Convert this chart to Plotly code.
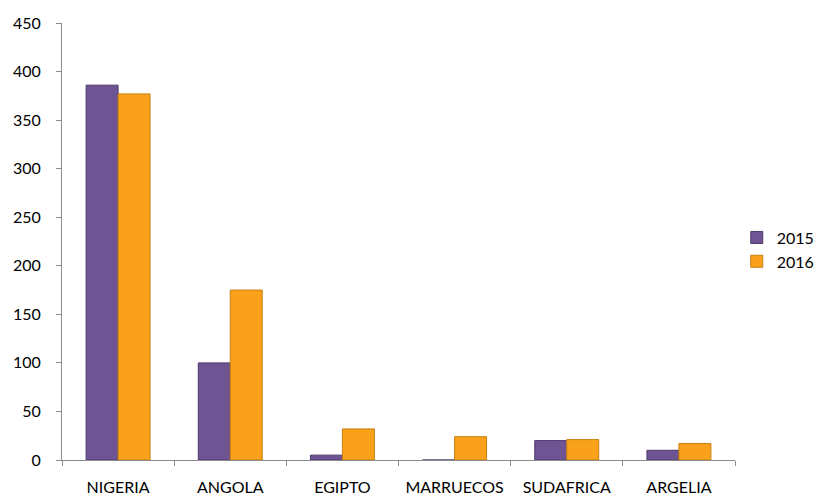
import plotly.graph_objects as go

categories = ["NIGERIA", "ANGOLA", "EGIPTO", "MARRUECOS", "SUDAFRICA", "ARGELIA"]
values_2015 = [386, 100, 5, 0, 20, 10]
values_2016 = [377, 175, 32, 24, 21, 17]
y_ticks = [0, 50, 100, 150, 200, 250, 300, 350, 400, 450]

fig = go.Figure()
fig.add_trace(go.Bar(
    name="2015", x=categories, y=values_2015,
    marker=dict(color="#6E5493", line=dict(color="#4E3A6B", width=1)),
))
fig.add_trace(go.Bar(
    name="2016", x=categories, y=values_2016,
    marker=dict(color="#F9A11B", line=dict(color="#C77F10", width=1)),
))

fig.update_layout(
    width=817, height=488,
    margin=dict(l=54, r=90, t=15, b=36),
    paper_bgcolor="white", plot_bgcolor="white",
    barmode="group", bargap=0.43, bargroupgap=0,
    font=dict(family="Lato, Open Sans, sans-serif", size=15, color="#000000"),
    showlegend=True,
    legend=dict(xref="container", yref="container", x=0.892, y=0.505,
                xanchor="left", yanchor="middle",
                font=dict(size=16), tracegroupgap=6, itemwidth=30),
    xaxis=dict(
        showline=True, linecolor="#8C8C8C", linewidth=1, automargin=False,
        ticks="outside", tickson="boundaries", ticklen=5, tickcolor="#8C8C8C",
        showgrid=False, tickfont=dict(size=16), ticklabelstandoff=13,
    ),
    yaxis=dict(
        range=[0, 450], tickvals=y_ticks, showline=True, linecolor="#8C8C8C",
        linewidth=1, ticks="outside", ticklen=5, tickcolor="#8C8C8C",
        showgrid=False, zeroline=False, tickfont=dict(size=16),
        ticklabelstandoff=12, automargin=False,
    ),
)

fig.write_html("out.html")
